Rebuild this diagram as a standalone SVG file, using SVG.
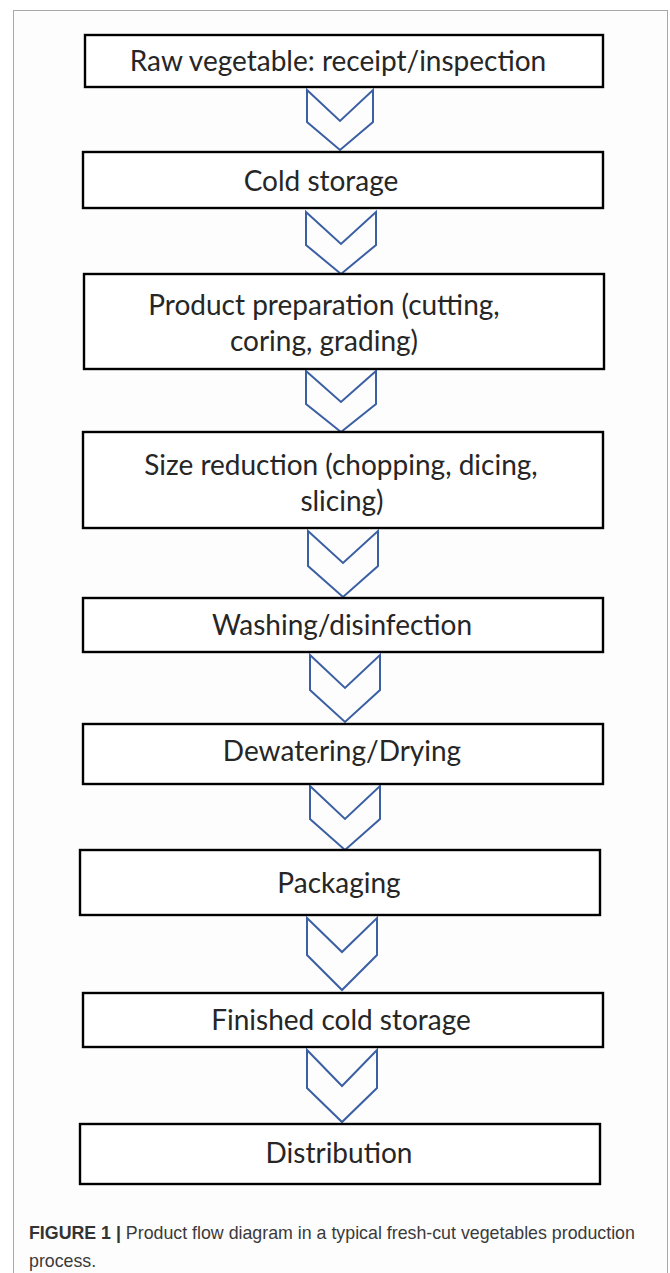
<svg xmlns="http://www.w3.org/2000/svg" width="670" height="1273" viewBox="0 0 670 1273">
<style>
.box{fill:#ffffff;stroke:#000000;stroke-width:2.4}
.lbl{font-family:Lato,"Open Sans","DejaVu Sans",sans-serif;font-size:28px;fill:#262626;text-anchor:middle}
.chev{fill:none;stroke:#3b5fa3;stroke-width:2;stroke-linejoin:miter}
.cap{font-family:"Liberation Sans",Arial,sans-serif;font-size:17.8px;fill:#3a3a3a}
</style>
<rect x="0" y="0" width="670" height="1273" fill="#ffffff"/>
<rect x="13.5" y="10.5" width="654" height="1275" fill="#fdfdfd" stroke="#a8a8a8" stroke-width="1"/>
<g id="connectors">
<polygon class="chev" points="307,90 340,121 373,90 373,122 340,150 307,122"/>
<polygon class="chev" points="306,212 341,244 376,212 376,245 341,274 306,245"/>
<polygon class="chev" points="306,371 341,402 376,371 376,404 341,432 306,404"/>
<polygon class="chev" points="308,531 343,563 378,531 378,566 343,597 308,566"/>
<polygon class="chev" points="310,655 345,688 380,655 380,690 345,722 310,690"/>
<polygon class="chev" points="310,786 345,819 380,786 380,819 345,850 310,819"/>
<polygon class="chev" points="307,918 342,952 377,918 377,955 342,990 307,955"/>
<polygon class="chev" points="307,1050 342,1086 377,1050 377,1088 342,1122 307,1088"/>
</g>
<g id="n1"><rect class="box" x="85" y="35" width="518" height="52"/><text class="lbl" x="338" y="71">Raw vegetable: receipt/inspection</text></g>
<g id="n2"><rect class="box" x="83" y="152" width="520" height="56"/><text class="lbl" x="321" y="191">Cold storage</text></g>
<g id="n3"><rect class="box" x="84" y="274" width="520" height="95"/><text class="lbl" x="324" y="315">Product preparation (cutting,</text><text class="lbl" x="324" y="351">coring, grading)</text></g>
<g id="n4"><rect class="box" x="83" y="432" width="520" height="96"/><text class="lbl" x="341" y="475">Size reduction (chopping, dicing,</text><text class="lbl" x="342" y="511">slicing)</text></g>
<g id="n5"><rect class="box" x="83" y="598" width="520" height="54"/><text class="lbl" x="342" y="635">Washing/disinfection</text></g>
<g id="n6"><rect class="box" x="83" y="724" width="520" height="60"/><text class="lbl" x="342" y="761">Dewatering/Drying</text></g>
<g id="n7"><rect class="box" x="80" y="850" width="520" height="65"/><text class="lbl" x="339" y="893">Packaging</text></g>
<g id="n8"><rect class="box" x="83" y="993" width="520" height="54"/><text class="lbl" x="341" y="1030">Finished cold storage</text></g>
<g id="n9"><rect class="box" x="80" y="1124" width="520" height="60"/><text class="lbl" x="339" y="1163">Distribution</text></g>
<g id="caption">
<text class="cap" x="29" y="1239"><tspan font-weight="bold" fill="#333333">FIGURE 1 |</tspan> Product flow diagram in a typical fresh-cut vegetables production</text>
<text class="cap" x="29" y="1267">process.</text>
</g>
</svg>
